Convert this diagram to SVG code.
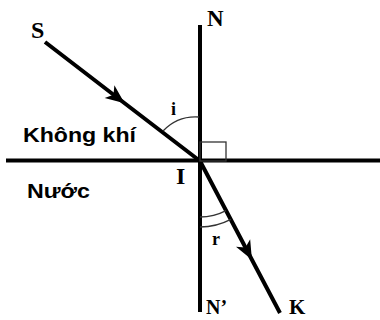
<svg xmlns="http://www.w3.org/2000/svg" width="380" height="320" viewBox="0 0 380 320">
<defs>
<style>
.axis{stroke:#000;stroke-width:4;fill:none}
.ray{stroke:#000;stroke-width:4;fill:none;marker-mid:url(#arr)}
.thin{stroke:#333;stroke-width:1.3;fill:none}
.lbl{font-family:"Liberation Serif",serif;font-weight:bold;fill:#000}
.med{font-family:"Liberation Sans",Arial,sans-serif;font-weight:bold;fill:#000;font-size:20px}
</style>
<marker id="arr" markerUnits="userSpaceOnUse" orient="auto" viewBox="-20 -10 22 20" refX="0" refY="0" markerWidth="22" markerHeight="20" overflow="visible">
<path d="M2,0 L-17,-8 L-12,0 L-17,8 Z" fill="#000"/>
</marker>
</defs>
<rect width="380" height="320" fill="#fff"/>
<g id="connectors">
<line id="surface" class="axis" x1="6" y1="160.5" x2="380" y2="160.5"/>
<line id="normal" class="axis" x1="200" y1="25" x2="200" y2="312"/>
<path id="incident" class="ray" d="M45,42 L123,102 L200,161"/>
<path id="refracted" class="ray" d="M200,161 L251,258 L280,313"/>
<path id="angle-i" class="thin" d="M163,131 A45,45 0 0 1 199,117"/>
<path id="angle-r1" class="thin" d="M200,217 A56,56 0 0 0 226,210.6"/>
<path id="angle-r2" class="thin" d="M200,227 A66,66 0 0 0 230.8,219.4"/>
<rect id="right-angle" class="thin" x="200" y="142" width="26" height="19" stroke="#000"/>
</g>
<g id="S"><text class="lbl" x="31" y="38" font-size="24">S</text></g>
<g id="N"><text class="lbl" x="207" y="26" font-size="23">N</text></g>
<g id="i"><text class="lbl" x="171" y="115" font-size="18">i</text></g>
<g id="I"><text class="lbl" x="176" y="184" font-size="24">I</text></g>
<g id="r"><text class="lbl" x="212" y="245" font-size="18">r</text></g>
<g id="N2"><text class="lbl" x="206" y="314" font-size="20">N’</text></g>
<g id="K"><text class="lbl" x="289" y="314" font-size="21">K</text></g>
<g id="air"><text class="med" x="23" y="142" textLength="113" lengthAdjust="spacingAndGlyphs">Không khí</text></g>
<g id="water"><text class="med" x="27" y="198" textLength="63" lengthAdjust="spacingAndGlyphs">Nước</text></g>
</svg>
